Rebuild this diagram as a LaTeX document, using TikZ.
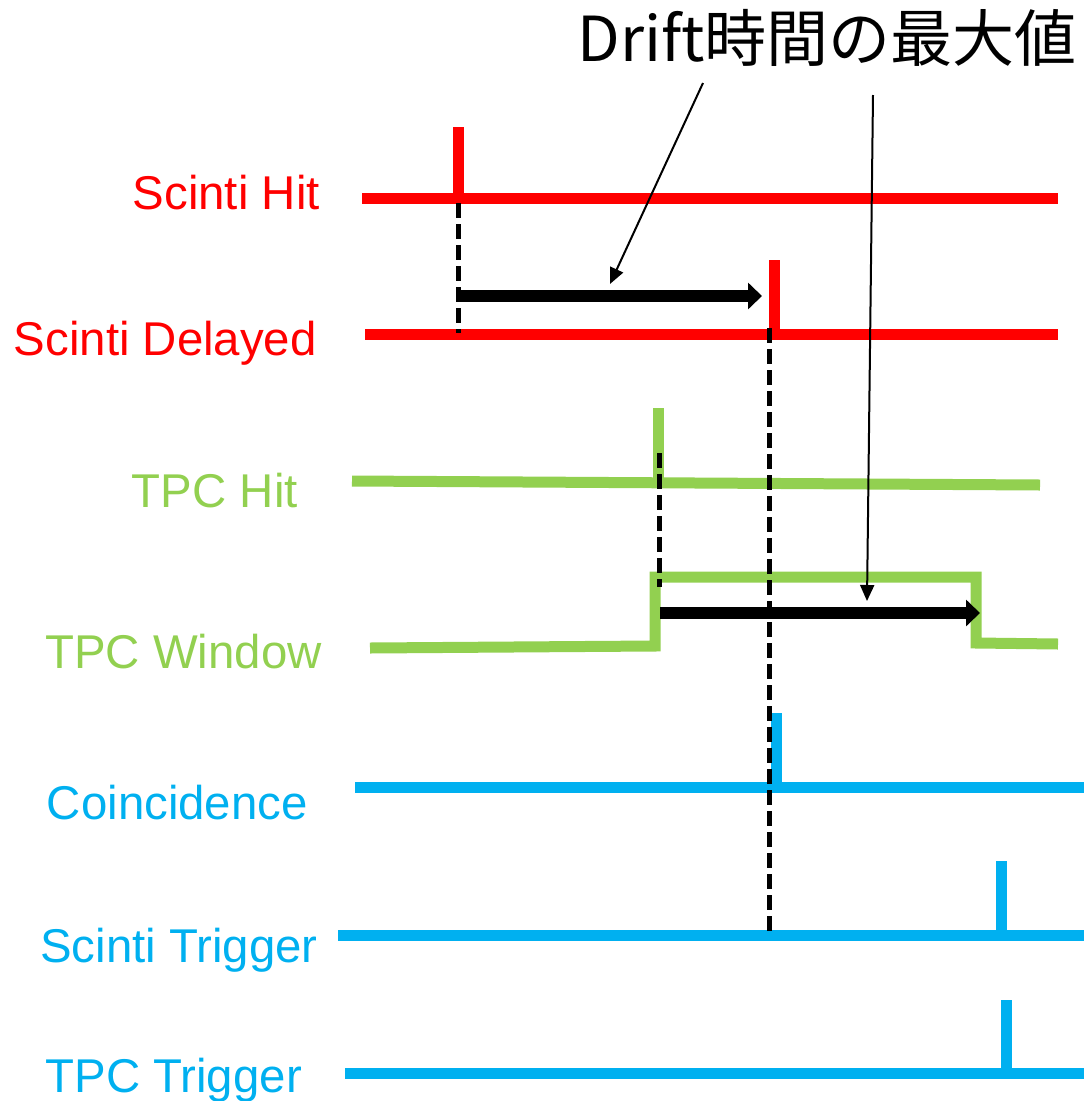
\documentclass[tikz,border=0pt]{standalone}
\usepackage{fontspec}
\setmainfont{Liberation Sans}
\newfontfamily\jpfont{Noto Sans CJK JP}
\usetikzlibrary{arrows.meta}
\definecolor{sigred}{RGB}{255,0,0}
\definecolor{siggreen}{RGB}{146,208,80}
\definecolor{sigblue}{RGB}{0,176,240}
\begin{document}
\begin{tikzpicture}[x=1pt,y=-1pt,
  siglabel/.style={inner sep=0pt, anchor=base east, font=\fontsize{47.4}{48}\selectfont},
  trace/.style={line width=11pt},
  guide/.style={line width=5pt, dash pattern=on 15pt off 6pt},
  interval/.style={line width=12pt, -{Triangle[length=14pt,width=26pt]}},
  pointer/.style={line width=2pt, -{Triangle[length=16pt,width=14pt]}}]
\useasboundingbox (0,0) rectangle (1084,1101);

% signal names
\node[siglabel, sigred]   (lhit)   at (320,209)  {Scinti Hit};
\node[siglabel, sigred]   (ldel)   at (317,355)  {Scinti Delayed};
\node[siglabel, siggreen] (ltpc)   at (298,507)  {TPC Hit};
\node[siglabel, siggreen] (lwin)   at (322,668)  {TPC Window};
\node[siglabel, sigblue]  (lcoin)  at (308,819)  {Coincidence};
\node[siglabel, sigblue]  (lstrg)  at (318,962)  {Scinti Trigger};
\node[siglabel, sigblue]  (lttrg)  at (302,1092) {TPC Trigger};

% title
\node[inner sep=0pt, anchor=base east, font=\jpfont\fontsize{62}{62}\selectfont] (title) at (1077,61) {Drift時間の最大値};

% key instants
\coordinate (hitT)  at (458,203);
\coordinate (hitB)  at (458,333);
\coordinate (delT)  at (769,328);
\coordinate (trgB)  at (769,935);
\coordinate (tpcT)  at (659,453);
\coordinate (tpcB)  at (659,587);
\coordinate (a1s)   at (458,296);
\coordinate (a1e)   at (762,296);
\coordinate (a2s)   at (660,613);
\coordinate (a2e)   at (980,613);
\coordinate (p1s)   at (703,83);
\coordinate (p1e)   at (610,284);
\coordinate (p2s)   at (873,95);
\coordinate (p2e)   at (867,601);

% Scinti Hit
\draw[trace, sigred] (362,198) -- (1058,198);
\draw[trace, sigred] (458,198) -- (458,127);
% Scinti Delayed
\draw[trace, sigred] (365,334) -- (1058,334);
\draw[trace, sigred] (774,334) -- (774,260);
% TPC Hit
\draw[trace, siggreen] (352,481) -- (1040,485);
\draw[trace, siggreen] (658,483) -- (658,408);
% TPC Window
\draw[trace, siggreen] (370,648) -- (655,646) -- (655,577) -- (976,577) -- (976,643) -- (1058,644);
% Coincidence
\draw[trace, sigblue] (355,787) -- (1084,787);
\draw[trace, sigblue] (776,787) -- (776,713);
% Scinti Trigger
\draw[trace, sigblue] (338,935) -- (1084,935);
\draw[trace, sigblue] (1001,935) -- (1001,861);
% TPC Trigger
\draw[trace, sigblue] (345,1073) -- (1084,1073);
\draw[trace, sigblue] (1006,1073) -- (1006,1000);

% timing guides
\draw[guide] (hitT) -- (hitB);
\draw[guide] (tpcT) -- (tpcB);
\draw[guide] (delT) -- (trgB);

% delay and drift window
\draw[interval] (a1s) -- (a1e);
\draw[interval] (a2s) -- (a2e);

% callouts
\draw[pointer] (p1s) -- (p1e);
\draw[pointer] (p2s) -- (p2e);
\end{tikzpicture}
\end{document}
